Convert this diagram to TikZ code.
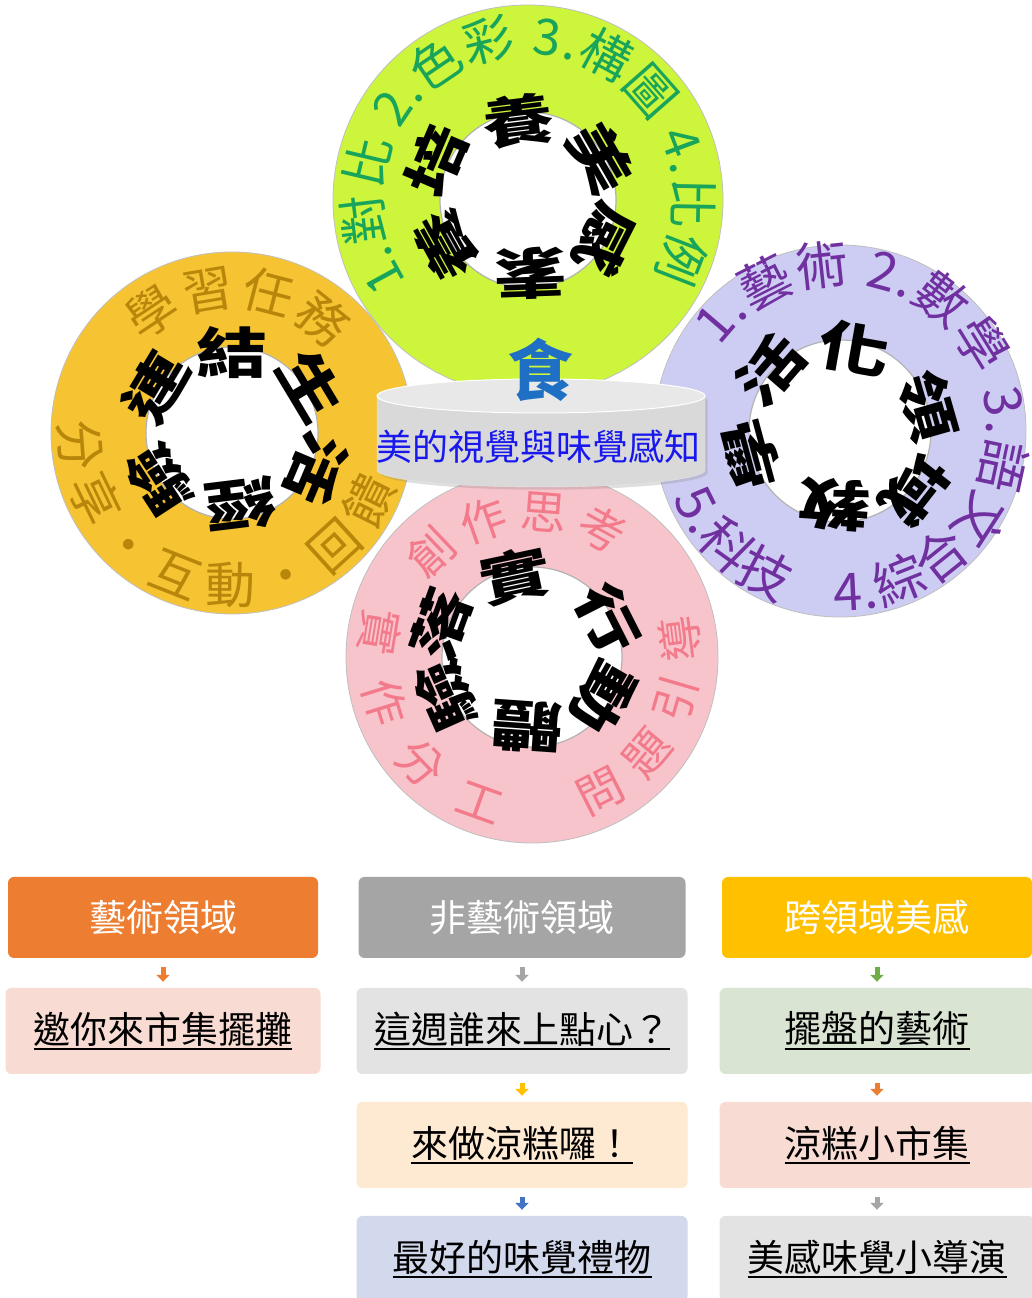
\documentclass[tikz,border=0pt]{standalone}
\usepackage{fontspec}
\setmainfont{Noto Sans CJK TC}
\usepackage{xcolor}
\usepackage{tikz}
\usetikzlibrary{decorations.text,arrows.meta,shadows}

\definecolor{ringgreen}{HTML}{CCF53C}
\definecolor{ringgold}{HTML}{F6C432}
\definecolor{ringlav}{HTML}{CDCDF4}
\definecolor{ringpink}{HTML}{F8C4CB}
\definecolor{txtgreen}{HTML}{18A45A}
\definecolor{txtgold}{HTML}{B8860B}
\definecolor{txtlav}{HTML}{7030A0}
\definecolor{txtpink}{HTML}{F37A8B}
\definecolor{foodblue}{HTML}{1F6FC4}
\definecolor{capblue}{HTML}{1818EE}
\definecolor{accorange}{HTML}{ED7D31}
\definecolor{accgrey}{HTML}{A5A5A5}
\definecolor{accgold}{HTML}{FFC000}
\definecolor{accblue}{HTML}{4472C4}
\definecolor{accgreen}{HTML}{70AD47}
\definecolor{lightorange}{HTML}{F8DBD3}
\definecolor{lightgrey}{HTML}{E3E3E3}
\definecolor{lightpeach}{HTML}{FEE9D2}
\definecolor{lightblue}{HTML}{D3D9EC}
\definecolor{lightgreen}{HTML}{DAE4D3}

\newcommand{\lined}[1]{\setbox0\hbox{#1}\vtop{\copy0\kern2pt\hrule height 2pt}}

\begin{document}
\begin{tikzpicture}[
    x=1pt, y=1pt,
    ring/.style={draw=black!25, line width=0.8pt},
    hole/.style={fill=white, draw=black!30, line width=1.2pt},
    ringch/.style={inner sep=0pt, xscale=1.15, yscale=0.88,
        font=\fontsize{62}{62}\selectfont\bfseries},
    hdr/.style={rectangle, rounded corners=6pt, minimum width=310pt,
        minimum height=81pt, text=white, font=\fontsize{37}{40}\selectfont},
    itm/.style={rectangle, rounded corners=6pt, minimum width=315pt,
        minimum height=86pt, font=\fontsize{37}{42}\selectfont},
    flow/.style={draw=#1, line width=5pt, shorten <=9pt, shorten >=6pt,
        -{Triangle[width=13pt,length=7pt]}},
]

\fill[white] (0,0) rectangle (1032,1298);
\useasboundingbox (0,0) rectangle (1032,1298);

\coordinate (gc) at (528,1098);
\coordinate (oc) at (232,865);
\coordinate (pc) at (840,867);
\coordinate (kc) at (532,641);

% Green ring
\draw[ring, fill=ringgreen] (gc) circle[radius=195pt];
\draw[hole] (gc) circle[radius=88pt];
\foreach \ch/\a/\r in {培/157/100pt, 養/97/80pt, 美/30/84pt, 感/-27/88pt, 素/-88/74pt, 養/-151/93pt}
    \node[rotate=\a-90, ringch] at ([shift={(\a:\r)}]gc) {\ch};
\path[decorate, decoration={text along path, text align=fit to path, text color=txtgreen,
    text={|\fontsize{50}{50}\selectfont|1.對比 2.色彩 3.構圖 4.比例}}]
    ([shift={(214:146pt)}]gc) arc[start angle=214, end angle=-31, radius=146pt];

% Gold ring
\draw[ring, fill=ringgold] (oc) circle[radius=181pt];
\draw[hole] (oc) circle[radius=86pt];
\foreach \ch/\a/\r in {連/149/88pt, 結/90/80pt, 生/31/92pt, 活/-23/92pt, 經/-83/72pt, 驗/-147/87pt}
    \node[rotate=\a-90, ringch] at ([shift={(\a:\r)}]oc) {\ch};
\path[decorate, decoration={text along path, text align=fit to path, text color=txtgold,
    text={|\fontsize{50}{50}\selectfont|學習任務}}]
    ([shift={(135:126pt)}]oc) arc[start angle=135, end angle=40, radius=126pt];
\path[decorate, decoration={text along path, text align=fit to path, text color=txtgold,
    text={|\fontsize{50}{50}\selectfont|分享・互動・回饋}}]
    ([shift={(176:171pt)}]oc) arc[start angle=176, end angle=342, radius=171pt];

% Lavender ring
\draw[ring, fill=ringlav] (pc) circle[radius=186pt];
\draw[hole] (pc) circle[radius=91pt];
\foreach \ch/\a/\r in {活/139/93pt, 化/80/84pt, 領/16/92pt, 域/-38/95pt, 教/-94/74pt, 學/-165/92pt}
    \node[rotate=\a-90, ringch] at ([shift={(\a:\r)}]pc) {\ch};
\path[decorate, decoration={text along path, text align=fit to path, text color=txtlav,
    text={|\fontsize{52}{52}\selectfont|1.藝術 2.數學 3.語文}}]
    ([shift={(145:147pt)}]pc) arc[start angle=145, end angle=-43, radius=147pt];
\path[decorate, decoration={text along path, text align=fit to path, text color=txtlav,
    text={|\fontsize{52}{52}\selectfont|5.科技　4.綜合}}]
    ([shift={(202:180pt)}]pc) arc[start angle=202, end angle=317, radius=180pt];

% Pink ring
\draw[ring, fill=ringpink] (kc) circle[radius=186pt];
\draw[hole] (kc) circle[radius=90pt];
\foreach \ch/\a/\r in {落/160/97pt, 實/102/83pt, 行/27/85pt, 動/-30/82pt, 體/-94/70pt, 驗/-156/94pt}
    \node[rotate=\a-90, ringch] at ([shift={(\a:\r)}]kc) {\ch};
\path[decorate, decoration={text along path, text align=fit to path, text color=txtpink,
    text={|\fontsize{46}{46}\selectfont|創作思考}}]
    ([shift={(144:128pt)}]kc) arc[start angle=144, end angle=51, radius=128pt];
\path[decorate, decoration={text along path, text align=fit to path, text color=txtpink,
    text={|\fontsize{46}{46}\selectfont|實作分工}}]
    ([shift={(163:171pt)}]kc) arc[start angle=163, end angle=258, radius=171pt];
\path[decorate, decoration={text along path, text align=fit to path, text color=txtpink,
    text={|\fontsize{46}{46}\selectfont|問題引導}}]
    ([shift={(289:167pt)}]kc) arc[start angle=289, end angle=375, radius=167pt];

% Plate in the middle
\path[fill=black!15, draw=black!10, drop shadow={opacity=0.25}]
    (377,902) -- (377,828) arc[start angle=180, end angle=360, x radius=164pt, y radius=17pt]
    -- (705,902) -- cycle;
\path[fill=black!9, draw=white, line width=1pt] (541,902) ellipse[x radius=164pt, y radius=17pt];
\node[text=foodblue, font=\fontsize{66}{66}\selectfont\bfseries] (food) at (540,928) {食};
\node[text=capblue, font=\fontsize{36}{36}\selectfont] (cap) at (538,851) {美的視覺與味覺感知};

% Three columns
\node[hdr, fill=accorange] (art) at (163,380.5) {藝術領域};
\node[hdr, fill=accgrey, minimum width=327pt] (nonart) at (522,380.5) {非藝術領域};
\node[hdr, fill=accgold] (cross) at (877,380.5) {跨領域美感};

\node[itm, fill=lightorange] (stall) at (163,267) {\lined{邀你來市集擺攤}};
\node[itm, fill=lightgrey, minimum width=331pt] (snack) at (522,267) {\lined{這週誰來上點心？}};
\node[itm, fill=lightpeach, minimum width=331pt] (cake) at (522,153) {\lined{來做涼糕囉！}};
\node[itm, fill=lightblue, minimum width=331pt] (gift) at (522,39) {\lined{最好的味覺禮物}};
\node[itm, fill=lightgreen] (plate) at (877,267) {\lined{擺盤的藝術}};
\node[itm, fill=lightorange] (market) at (877,153) {\lined{涼糕小市集}};
\node[itm, fill=lightgrey] (director) at (877,39) {\lined{美感味覺小導演}};

\draw[flow=accorange] (art) -- (stall);
\draw[flow=accgrey] (nonart) -- (snack);
\draw[flow=accgold] (snack) -- (cake);
\draw[flow=accblue] (cake) -- (gift);
\draw[flow=accgreen] (cross) -- (plate);
\draw[flow=accorange] (plate) -- (market);
\draw[flow=accgrey] (market) -- (director);

\end{tikzpicture}
\end{document}
